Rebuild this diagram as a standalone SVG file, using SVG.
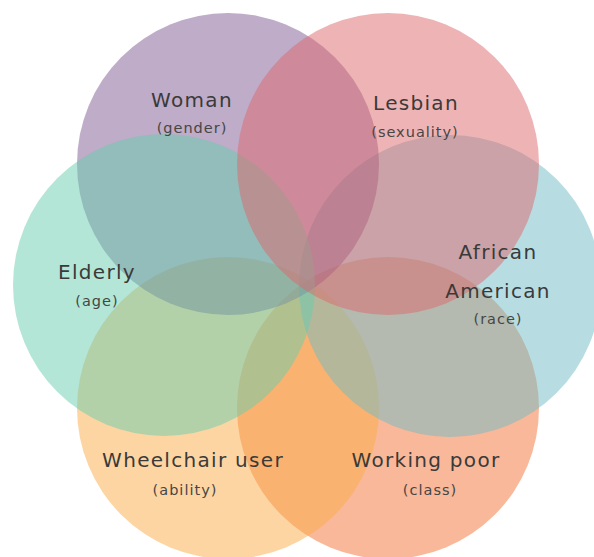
<svg xmlns="http://www.w3.org/2000/svg" width="594" height="557" viewBox="0 0 594 557">
  <style>
    .set { fill-opacity: 0.5; stroke: none; }
    .main { font-family: "DejaVu Sans", "Liberation Sans", sans-serif; font-size: 20px; letter-spacing: 1.3px; fill: #3a3a3a; text-anchor: middle; }
    .sub { font-family: "DejaVu Sans", "Liberation Sans", sans-serif; font-size: 14.5px; letter-spacing: 1px; fill: #464646; text-anchor: middle; }
  </style>
  <rect width="594" height="557" fill="#ffffff"/>

  <!-- identity sets, stacked bottom to top -->
  <g id="sets">
    <g id="working-poor"><circle class="set" cx="388" cy="408" r="151" fill="#f17133"/></g>
    <g id="wheelchair-user"><circle class="set" cx="228" cy="408" r="151" fill="#fbab47"/></g>
    <g id="african-american"><circle class="set" cx="450" cy="286" r="151" fill="#6fbbc5"/></g>
    <g id="woman"><circle class="set" cx="228" cy="164" r="151" fill="#7d5991"/></g>
    <g id="elderly"><circle class="set" cx="164" cy="285" r="151" fill="#67cdad"/></g>
    <g id="lesbian"><circle class="set" cx="388" cy="164" r="151" fill="#de676b" fill-opacity="0.42"/></g>
  </g>

  <!-- set labels -->
  <g id="labels">
    <g id="label-woman">
      <text class="main" x="192" y="107">Woman</text>
      <text class="sub" x="192" y="133">(gender)</text>
    </g>
    <g id="label-lesbian">
      <text class="main" x="416" y="110">Lesbian</text>
      <text class="sub" x="415" y="137">(sexuality)</text>
    </g>
    <g id="label-elderly">
      <text class="main" x="97" y="279">Elderly</text>
      <text class="sub" x="97" y="306">(age)</text>
    </g>
    <g id="label-african-american">
      <text class="main" x="498" y="259">African</text>
      <text class="main" x="498" y="298">American</text>
      <text class="sub" x="498" y="324">(race)</text>
    </g>
    <g id="label-wheelchair-user">
      <text class="main" x="193" y="467">Wheelchair user</text>
      <text class="sub" x="185" y="495">(ability)</text>
    </g>
    <g id="label-working-poor">
      <text class="main" x="426" y="467">Working poor</text>
      <text class="sub" x="430" y="495">(class)</text>
    </g>
  </g>
</svg>
